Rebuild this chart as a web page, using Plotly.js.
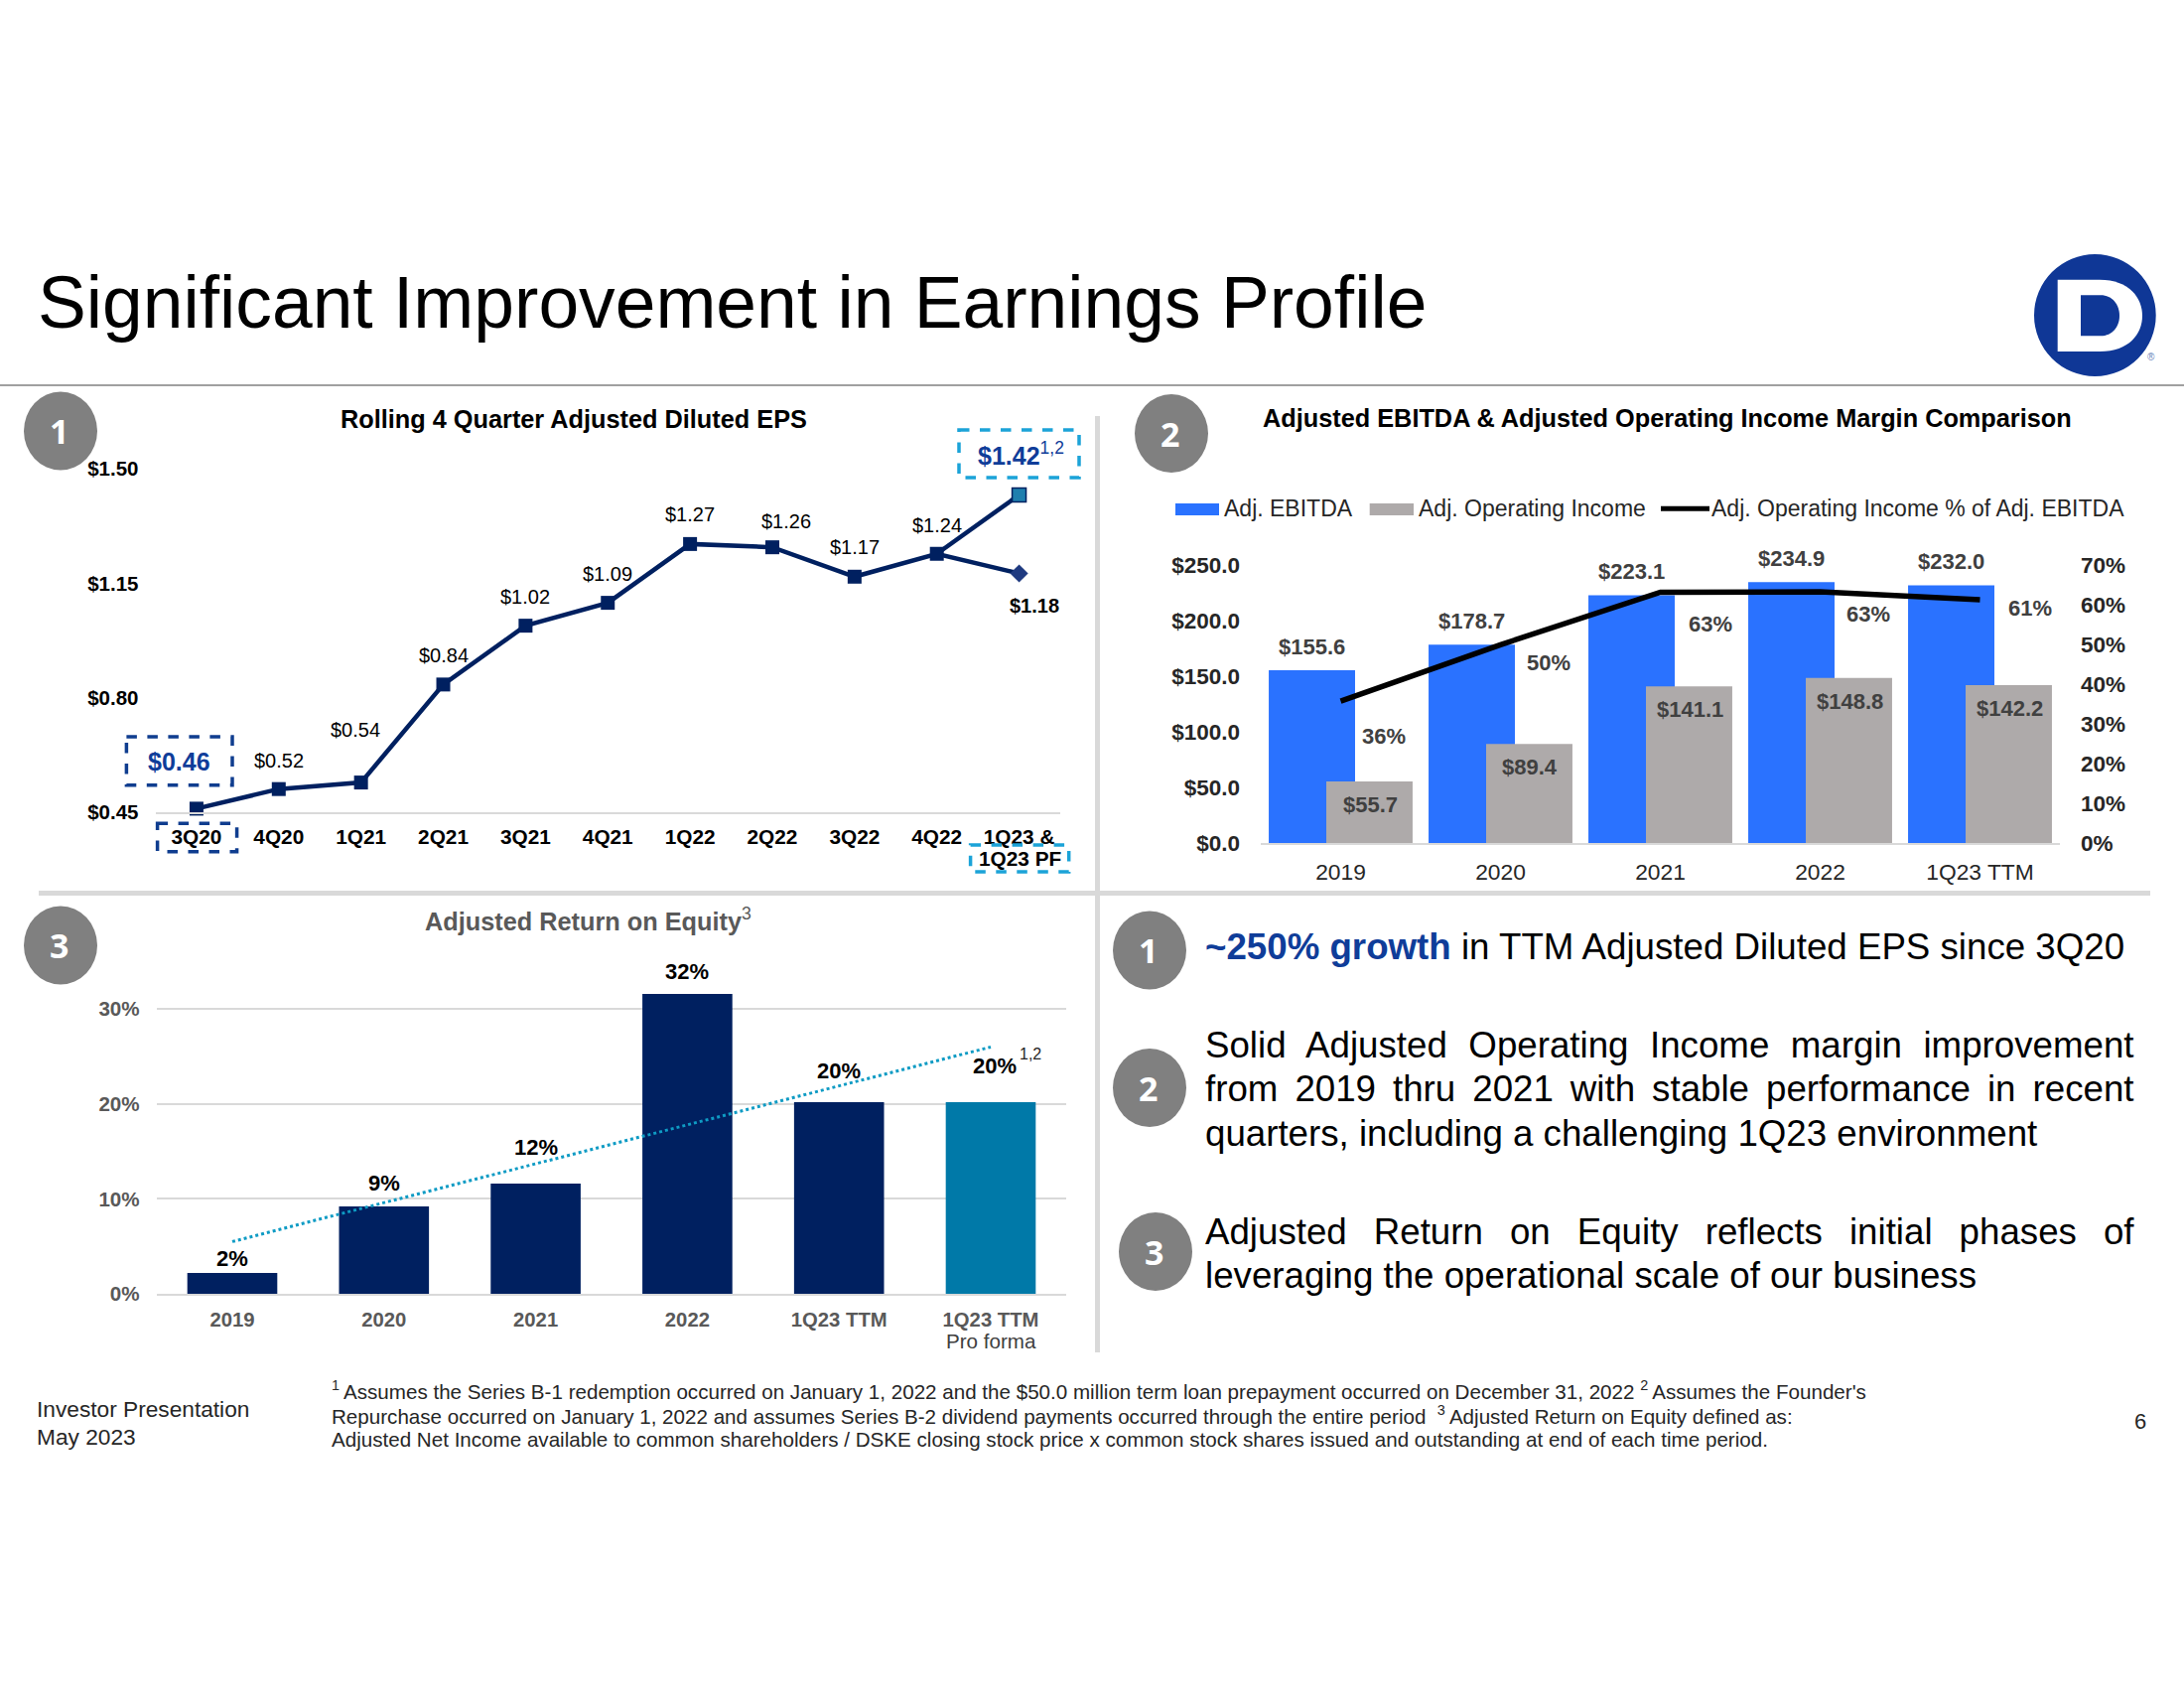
<!DOCTYPE html>
<html><head><meta charset="utf-8">
<script src="https://cdn.plot.ly/plotly-3.0.1.min.js"></script>
<style>html,body{margin:0;padding:0;background:#fff}</style>
</head><body><div id="chart" style="width:2200px;height:1700px"></div>
<script>
// ---------- data ----------
const epsQuarters = ['3Q20','4Q20','1Q21','2Q21','3Q21','4Q21','1Q22','2Q22','3Q22','4Q22','1Q23 &'];
const epsValues = [0.46,0.52,0.54,0.84,1.02,1.09,1.27,1.26,1.17,1.24,1.18];
const epsProFormaX = ['4Q22','1Q23 &'];
const epsProFormaY = [1.24,1.42];
const epsTicks = [0.45,0.80,1.15,1.50];
const ebitdaYears = ['2019','2020','2021','2022','1Q23 TTM'];
const adjEbitda = [155.6,178.7,223.1,234.9,232.0];
const adjOpIncome = [55.7,89.4,141.1,148.8,142.2];
const opIncomePct = [35.8,50.0,63.2,63.3,61.3];
const roeYears = ['2019','2020','2021','2022','1Q23 TTM','1Q23 TTM PF'];
const roeTickText = ['2019','2020','2021','2022','1Q23 TTM','1Q23 TTM'];
const roeValues = [2.2,9.2,11.6,31.6,20.2,20.2];
const roeTrendX = ['2019','1Q23 TTM PF'];
const roeTrendY = [5.5,26];

// ---------- style and placement ----------
const FONT='"Liberation Sans",Arial,sans-serif';
const W=2200,H=1700;
const X=v=>v/W, Y=v=>1-v/H;
const NAVY='#002060',TEAL='#0079A8',BLUE='#2A72FF',GREY='#AEAAAA',RULE='#D9D9D9',DARK='#404040',MID='#595959',
      STRONG='#0F3D99',SKY='#1BA3D8',CIRCLE='#808080';

const annotations=[],shapes=[];
function note(text,x,y,o={}){annotations.push(Object.assign({text,x:X(x),y:Y(y),xref:'paper',yref:'paper',showarrow:false,
  xanchor:'center',yanchor:'middle',align:o.xanchor==='left'?'left':'center',font:{family:FONT,size:o.size||20,color:o.color||'#000'}},
  (({size,color,...r})=>r)(o)));}
function tag(text,xref,yref,i,y,dx,dy,size,color){annotations.push({text,x:i,y,xref,yref,showarrow:false,xanchor:'center',yanchor:'middle',
  xshift:dx,yshift:dy,font:{family:FONT,size,color}});}
function rect(x0,y0,x1,y1,fill,line){shapes.push({type:'rect',xref:'paper',yref:'paper',x0:X(x0),x1:X(x1),y0:Y(y0),y1:Y(y1),
  fillcolor:fill||'rgba(0,0,0,0)',line:line||{width:0}});}
function hv(x0,y0,x1,y1,color,width,dash){shapes.push({type:'line',xref:'paper',yref:'paper',x0:X(x0),x1:X(x1),y0:Y(y0),y1:Y(y1),
  line:{color,width,dash:dash||'solid'}});}
function badge(n,cx,cy){shapes.push({type:'circle',xref:'paper',yref:'paper',x0:X(cx-37),x1:X(cx+37),y0:Y(cy-39.5),y1:Y(cy+39.5),
  fillcolor:CIRCLE,line:{width:0}});
  annotations.push({text:'<b>'+n+'</b>',x:X(cx-1.5),y:Y(cy),xref:'paper',yref:'paper',showarrow:false,xanchor:'center',yanchor:'middle',
  font:{family:'"Open Sans",sans-serif',size:34,color:'#fff'}});}
function pathOf(cmds){return cmds.map(c=>c[0]+c.slice(1).map((v,i)=>i%2===0?X(v):Y(v)).join(',')).join(' ');}
function blob(cmds,fill){shapes.push({type:'path',xref:'paper',yref:'paper',path:pathOf(cmds),fillcolor:fill,line:{width:0}});}

// page furniture
note('Significant Improvement in Earnings Profile',35.5,305,{xanchor:'left',size:73.2});
hv(0,388,W,388,'#808080',1.5);
hv(39,899.5,2166,899.5,RULE,5);
hv(1105.5,419,1105.5,1362,RULE,5);
// logo
shapes.push({type:'circle',xref:'paper',yref:'paper',x0:X(2049),x1:X(2171.7),y0:Y(256),y1:Y(379),fillcolor:'#0F3796',line:{width:0}});
blob([['M',2072.7,281.7],['L',2115,281.7],['C',2145,281.7,2158,300,2158,318],['C',2158,336,2145,354,2115,354],['L',2072.7,354],['Z']],'#fff');
blob([['M',2096,297.3],['L',2116,297.3],['C',2128,297.3,2135,307,2135,318],['C',2135,329,2128,338.3,2116,338.3],['L',2096,338.3],['Z']],'#0F3796');
note('®',2166.7,359.7,{size:10,color:'#5F7FB8'});

badge(1,61,434);badge(2,1180,436.5);badge(3,61,952);
badge(1,1158,957);badge(2,1158,1095.5);badge(3,1164,1260.5);

// section titles
note('<b>Rolling 4 Quarter Adjusted Diluted EPS</b>',578,421.7,{size:25.3});
note('<b>Adjusted EBITDA & Adjusted Operating Income Margin Comparison</b>',1679.5,420.7,{size:25.3});
note('<b>Adjusted Return on Equity</b><sup>3</sup>',592,925.5,{size:25.3,color:MID});

// panel 1 labels
const epsDx=[-17.5,0,-6,0,0,0,0,14,0,0,15.5];
const epsDy=[47,29,53,29,29,29,29.6,26,29.6,28.7,-33];
epsValues.forEach((v,i)=>{
  const s='$'+v.toFixed(2);
  if(i===0)tag('<b>'+s+'</b>','x','y',i,v,epsDx[i],epsDy[i],25,STRONG);
  else if(i===10)tag('<b>'+s+'</b>','x','y',i,v,epsDx[i],epsDy[i],20,'#000');
  else tag(s,'x','y',i,v,epsDx[i],epsDy[i],20,'#000');
});
note('<b>$'+epsProFormaY[1].toFixed(2)+'</b><sup>1,2</sup>',982.5,457,{xanchor:'left',size:25,color:STRONG});
note('<b>1Q23 PF</b>',1027,864.5,{size:20.8});
const dashBox=(a,b,c,d,col)=>rect(a,b,c,d,null,{color:col,width:3.5,dash:'dash'});
dashBox(127.4,742,234,790.7,'#0F3D8F');
dashBox(158.6,829.3,238.6,857.7,'#0F3D8F');
dashBox(966,433,1087,481,SKY);
dashBox(977.6,851,1076.7,878,SKY);

// panel 2 legend (swatches sized as in the source)
rect(1184,507,1228,519,BLUE);
note('Adj. EBITDA',1230.5,512,{xanchor:'left',size:23,color:'#262626'});
rect(1379.7,507,1424,519,GREY);
note('Adj. Operating Income',1426.5,512,{xanchor:'left',size:23,color:'#262626'});
hv(1673,512.3,1722,512.3,'#000',5);
note('Adj. Operating Income % of Adj. EBITDA',1722,512,{xanchor:'left',size:23,color:'#262626'});

// panel 2 labels
const pctDx=[43.6,48,50,48,50], pctDy=[-35.3,-18,-32,-22,-8.7];
ebitdaYears.forEach((c,i)=>{
  tag('<b>$'+adjEbitda[i].toFixed(1)+'</b>','x2','y2',i,adjEbitda[i],-29,23.5,22,DARK);
  tag('<b>$'+adjOpIncome[i].toFixed(1)+'</b>','x2','y2',i,adjOpIncome[i],29.5,-23.4,22,DARK);
  tag('<b>'+Math.round(opIncomePct[i])+'%</b>','x2','y3',i,opIncomePct[i],pctDx[i],pctDy[i],22,DARK);
});

// panel 3 labels
const roeDx=[0,0,0,0,0,4.4], roeDy=[14,23.6,36.3,22,31.6,36.6];
roeYears.forEach((c,i)=>tag('<b>'+Math.round(roeValues[i])+'%</b>','x3','y4',i,roeValues[i],roeDx[i],roeDy[i],22,'#000'));
note('1,2',1037.8,1061.5,{size:16,color:'#262626'});
note('Pro forma',998,1350,{size:20.6,color:DARK});

// body copy
const BODY=36.7, BODYX=1212, BODYR=2147.5;
annotations.push({text:'<b style="color:'+STRONG+'">~250% growth</b> in TTM Adjusted Diluted EPS since 3Q20',x:X(BODYX),y:Y(953.5),xref:'paper',yref:'paper',
  showarrow:false,xanchor:'left',yanchor:'middle',align:'left',font:{family:FONT,size:BODY,color:'#000'}});
note('Solid Adjusted Operating Income margin improvement',BODYX,1052,{xanchor:'left',size:BODY});
note('from 2019 thru 2021 with stable performance in recent',BODYX,1096.5,{xanchor:'left',size:BODY});
note('quarters, including a challenging 1Q23 environment',BODYX,1141,{xanchor:'left',size:BODY});
note('Adjusted Return on Equity reflects initial phases of',BODYX,1240,{xanchor:'left',size:BODY});
note('leveraging the operational scale of our business',BODYX,1284.5,{xanchor:'left',size:BODY});
const JUSTIFIED=['Solid Adjusted Operating','from 2019 thru','Adjusted Return on Equity reflects'];

// footer
note('Investor Presentation',35,1419,{xanchor:'left',size:22.7,color:'#262626'});
note('May 2023',35,1446.5,{xanchor:'left',size:22.7,color:'#262626'});
note('<sup>1 </sup>Assumes the Series B-1 redemption occurred on January 1, 2022 and the $50.0 million term loan prepayment occurred on December 31, 2022 <sup>2 </sup>Assumes the Founder\'s',331.5,1400,{xanchor:'left',size:20.6,color:'#262626'});
note('Repurchase occurred on January 1, 2022 and assumes Series B-2 dividend payments occurred through the entire period  <sup>3 </sup>Adjusted Return on Equity defined as:',331.5,1425,{xanchor:'left',size:20.6,color:'#262626'});
note('Adjusted Net Income available to common shareholders / DSKE closing stock price x common stock shares issued and outstanding at end of each time period.',331.5,1449.6,{xanchor:'left',size:20.6,color:'#262626'});
note('6',2155.7,1431.5,{size:22,color:'#262626'});

// ---------- traces ----------
const traces=[
 {type:'scatter',mode:'lines+markers',name:'Pro forma',x:epsProFormaX,y:epsProFormaY,xaxis:'x',yaxis:'y',cliponaxis:false,
  line:{color:NAVY,width:4.5},marker:{symbol:'square',size:14,opacity:1,color:['rgba(0,0,0,0)','#1F7FAE'],line:{color:NAVY,width:[0,1.5]}}},
 {type:'scatter',mode:'lines+markers',name:'Rolling 4Q EPS',x:epsQuarters,y:epsValues,xaxis:'x',yaxis:'y',cliponaxis:false,
  line:{color:NAVY,width:4.5},marker:{symbol:epsValues.map((v,i)=>i===10?'diamond':'square'),size:14,opacity:1,
  color:epsValues.map((v,i)=>i===10?'#1F3A80':NAVY)}},
 {type:'bar',name:'Adj. EBITDA',x:ebitdaYears,y:adjEbitda,xaxis:'x2',yaxis:'y2',width:0.54,offset:-0.45,marker:{color:BLUE}},
 {type:'bar',name:'Adj. Operating Income',x:ebitdaYears,y:adjOpIncome,xaxis:'x2',yaxis:'y2',width:0.54,offset:-0.09,marker:{color:GREY}},
 {type:'scatter',mode:'lines',name:'Adj. Operating Income % of Adj. EBITDA',x:ebitdaYears,y:opIncomePct,xaxis:'x2',yaxis:'y3',
  line:{color:'#000',width:5.5}},
 {type:'bar',name:'Adjusted Return on Equity',x:roeYears,y:roeValues,xaxis:'x3',yaxis:'y4',width:0.593,
  marker:{color:roeValues.map((v,i)=>i===5?TEAL:NAVY)}},
 {type:'scatter',mode:'lines',name:'Trend',x:roeTrendX,y:roeTrendY,xaxis:'x3',yaxis:'y4',line:{color:'#0E9BC4',width:3,dash:'dot'}}
];

const catAxis=(dom,anchor,extra)=>Object.assign({type:'category',domain:[X(dom[0]),X(dom[1])],anchor,showgrid:false,zeroline:false,
  showline:true,linecolor:RULE,linewidth:2,ticks:'',fixedrange:true},extra);
const layout={
 width:W,height:H,margin:{l:0,r:0,t:0,b:0},paper_bgcolor:'#fff',plot_bgcolor:'rgba(0,0,0,0)',showlegend:false,
 barmode:'overlay',font:{family:FONT},annotations,shapes,hovermode:false,
 xaxis:catAxis([156.5,1068],'y',{categoryorder:'array',categoryarray:epsQuarters,range:[-0.5,10.5],tickfont:{family:FONT,size:20.8,color:'#000',weight:'bold'},ticklabelstandoff:5}),
 yaxis:{domain:[Y(817.7),Y(472.2)],range:[0.45,1.5],anchor:'x',tickmode:'array',tickvals:epsTicks,ticktext:epsTicks.map(v=>'$'+v.toFixed(2)),
  showgrid:false,zeroline:false,showline:false,ticks:'',ticklabelstandoff:16,tickfont:{family:FONT,size:20.5,color:'#000',weight:'bold'},fixedrange:true},
 xaxis2:catAxis([1270,2075],'y2',{categoryorder:'array',categoryarray:ebitdaYears,range:[-0.5,4.5],tickfont:{family:FONT,size:22.8,color:'#262626'},ticklabelstandoff:7}),
 yaxis2:{domain:[Y(849.3),Y(569.3)],range:[0,250],anchor:'x2',dtick:50,tickprefix:'$',tickformat:'.1f',showgrid:false,zeroline:false,showline:false,
  ticks:'',ticklabelstandoff:20,tickfont:{family:FONT,size:22.5,color:'#262626',weight:'bold'},fixedrange:true},
 yaxis3:{domain:[Y(849.3),Y(569.3)],range:[0,70],overlaying:'y2',anchor:'x2',side:'right',dtick:10,ticksuffix:'%',showgrid:false,zeroline:false,showline:false,
  ticks:'',ticklabelstandoff:20,tickfont:{family:FONT,size:22.5,color:'#262626',weight:'bold'},fixedrange:true},
 xaxis3:catAxis([157.6,1074.4],'y4',{categoryorder:'array',categoryarray:roeYears,range:[-0.5,5.5],tickmode:'array',tickvals:roeYears,ticktext:roeTickText,
  tickfont:{family:FONT,size:20.3,color:MID,weight:'bold'},ticklabelstandoff:7}),
 yaxis4:{domain:[Y(1303),Y(968.4)],range:[0,35],anchor:'x3',tickmode:'array',tickvals:[0,10,20,30],ticktext:['0%','10%','20%','30%'],
  showgrid:true,gridcolor:RULE,gridwidth:2,zeroline:false,showline:false,ticks:'',ticklabelstandoff:16,tickfont:{family:FONT,size:20.6,color:MID,weight:'bold'},fixedrange:true}
};

Plotly.newPlot('chart',traces,layout,{staticPlot:true,displayModeBar:false}).then(()=>{
  // the three full-width body lines are justified in the source
  document.querySelectorAll('.annotation-text').forEach(t=>{
    const s=t.textContent;
    if(!JUSTIFIED.some(p=>s.startsWith(p)))return;
    const gaps=s.split(' ').length-1, want=BODYR-BODYX, have=t.getComputedTextLength();
    if(want>have)t.style.wordSpacing=((want-have)/gaps)+'px';
  });
  // drop the empty title placeholders Plotly leaves behind
  document.querySelectorAll('#chart svg text').forEach(t=>{if(!t.textContent.trim())t.remove();});
});
</script></body></html>
